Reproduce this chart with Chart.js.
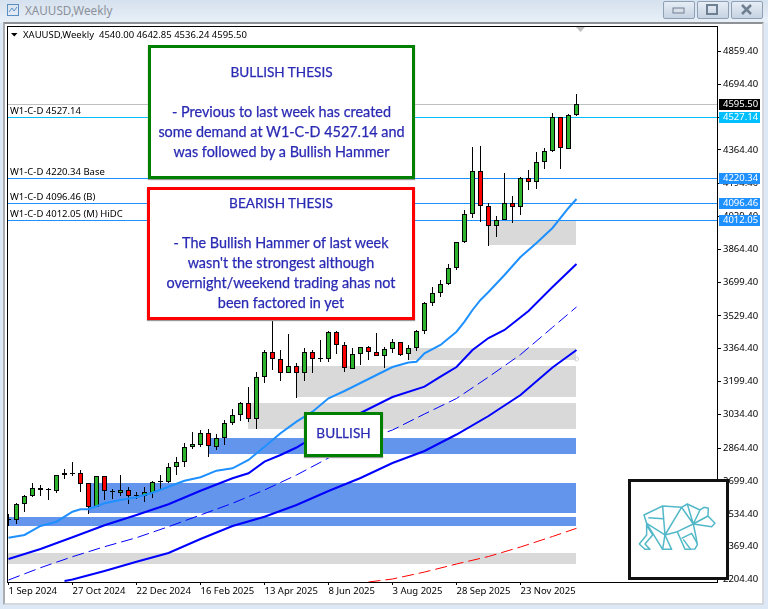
<!DOCTYPE html>
<html lang="en">

<head>
    <meta charset="UTF-8">
    <title>XAUUSD,Weekly</title>
    <script src="https://cdn.jsdelivr.net/npm/chart.js"></script>
    <style>
        * { box-sizing: border-box; }
        body { margin: 0; width: 768px; height: 609px; overflow: hidden; position: relative; background: #dce8f5; font-family: "Noto Sans", sans-serif; }
        .titlebar { position: absolute; left: 0; top: 0; width: 768px; height: 23px; background: linear-gradient(#d5e1ee, #e9f0f8); }
        .titlebar span { position: absolute; left: 25px; top: 2px; font-size: 11.7px; color: #8b9099; }
        .btn { position: absolute; top: 1px; height: 18px; border: 1px solid #8fa0b5; border-radius: 2px; background: linear-gradient(#e6edf5, #c6d3e2); }
        .frame { position: absolute; left: 3px; top: 22px; width: 761px; height: 583px; background: #fff; border: 2px solid #a9acb0; border-top-color: #8e9195; border-right-color: #d5d8dc; border-bottom-color: #d5d8dc; }
        canvas { position: absolute; left: 0; top: 0; }
        .info { position: absolute; left: 23px; top: 28px; font-size: 9.5px; color: #000; white-space: pre; }
        .box { position: absolute; background: #fff; text-align: center; color: #2a2ab4; font-family: Lato, sans-serif; font-size: 14.4px; line-height: 19.7px; box-shadow: 0 1px 1px #999; -webkit-text-stroke: 0.25px #2a2ab4; }
        .title { font-size: 13.6px; }
        .green { border: 3px solid #008000; }
        .red { border: 3px solid #ff0000; }
        .bearbox { position: absolute; left: 628px; top: 479px; width: 101px; height: 101px; background: #fff; border: 3px solid #111; }
        svg { position: absolute; left: 0; top: 0; }
    </style>
</head>

<body>

    <div class="titlebar">
        <span>XAUUSD,Weekly</span>
        <div class="btn" style="left:663px;width:32px"></div>
        <div class="btn" style="left:697px;width:32px"></div>
        <div class="btn" style="left:731px;width:32px"></div>
    </div>
    <div class="frame"></div>
    <canvas id="chartGold" width="768" height="609"></canvas>
    <div class="info">XAUUSD,Weekly  4540.00 4642.85 4536.24 4595.50</div>

    <!-- Caixas de texto -->
    <div class="box green" style="left:148px;top:45px;width:267px;height:134px;padding-top:14px">
        <span class="title">BULLISH THESIS</span><br><br>- Previous to last week has created<br>some demand at W1-C-D 4527.14 and<br>was followed by a Bullish Hammer
    </div>
    <div class="box red" style="left:147px;top:187px;width:268px;height:133px;padding-top:3px">
        <span class="title">BEARISH THESIS</span><br><br>- The Bullish Hammer of last week<br>wasn't the strongest although<br>overnight/weekend trading ahas not<br>been factored in yet
    </div>
    <div class="box green title" style="left:304px;top:412px;width:79px;height:45px;padding-top:9px">BULLISH</div>

    <div class="bearbox"></div>

    <!-- Desenhos da janela e o urso -->
    <svg width="768" height="609">
        <g fill="none" stroke="#5b8fc4">
            <rect x="7.5" y="4.5" width="11" height="11" />
            <path d="M9 12l3-4 2 3 3-4" />
        </g>
        <rect x="673" y="8" width="11" height="5" fill="#d8dfe8" stroke="#6f7f92" />
        <rect x="707" y="5" width="10" height="9" fill="none" stroke="#6f7f92" stroke-width="2" />
        <path d="M742 5l9 9M751 5l-9 9" stroke="#6f7f92" stroke-width="2.5" />
        <path d="M11 33h6.5l-3.2 3.5z" fill="#000" />
        <path d="M576 27h9l-4.5 5z" fill="#bdbdbd" />
        <circle cx="576.5" cy="359" r="2" fill="none" stroke="#d0d0d0" />
        <g transform="translate(300 420) scale(0.3333)" fill="none" stroke="#52b8c8" stroke-width="4.5" stroke-linejoin="round">
            <path d="M1032 285L1088 258L1145 262L1162 252L1200 270L1212 262L1225 265L1224 288L1245 310L1235 320L1180 312L1188 350L1192 375L1185 387L1155 388L1132 335L1095 345L1115 388L1088 388L1040 310L1032 285Z" />
            <path d="M1088 258L1095 345L1145 262L1180 312L1162 252M1045 293L1090 296M1040 310L1095 345M1180 312L1132 335M1200 270L1180 312M1180 312L1224 288" />
            <path d="M1040 310L1040 345L1018 372L1035 388L1050 388L1035 372L1058 345L1040 315M1095 345L1088 388M1145 355L1175 340L1192 370M1150 358L1172 388" />
        </g>
    </svg>

    <script>
        // Velas semanais (OHLC)
        var opens = [2503.7, 2502.2, 2582.6, 2622.8, 2663, 2656, 2650.9, 2728.3, 2738.3, 2738.3, 2688.2, 2570.5,
            2723.3, 2647.9, 2640.9, 2653, 2627.8, 2625.8, 2640.9, 2693.2, 2694.7, 2768.6, 2793.7, 2869.1,
            2879.2, 2939.6, 2872, 2914.2, 2989.8, 3030, 3090.3, 3009.9, 3221, 3346.6, 3311.4, 3241.1,
            3276.3, 3241.1, 3346.6, 3316.5, 3314.5, 3447.2, 3381.9, 3264.2, 3336.6, 3371.8, 3346.6, 3329.6,
            3363.3, 3396.9, 3336.6, 3366.7, 3453.7, 3593, 3643.2, 3688.5, 3768.9, 3899.8, 4040.4, 4256.6,
            4080.6, 3980, 4010.2, 4095.7, 4075.6, 4221.4, 4201.3, 4301.8, 4357.1, 4528, 4370.2, 4540]
        var highs = [2532, 2587.6, 2629.3, 2688.2, 2678.1, 2663, 2728.3, 2758.4, 2795, 2753.4, 2688.2, 2726,
            2723.3, 2659.5, 2728.3, 2668, 2642.9, 2668, 2698.2, 2728.3, 2790.2, 2818.8, 2889.2, 2944.6,
            2956.2, 2961.2, 2935.9, 3006.4, 3061.7, 3098.4, 3172.3, 3246.1, 3358.2, 3520, 3358.2, 3438.7,
            3291.4, 3366.7, 3358.2, 3408.5, 3453.7, 3452.2, 3396.9, 3366.7, 3373.3, 3378.4, 3442.2, 3371.8,
            3413.5, 3396.9, 3381.9, 3458.8, 3601, 3675, 3710, 3789, 3901, 4062, 4378.7, 4383.8,
            4095.7, 4031.9, 4248, 4131, 4226.4, 4263.1, 4353.6, 4372.2, 4548.1, 4530, 4544.6, 4642.85]
        var lows = [2473.5, 2485, 2545.4, 2617.8, 2625.8, 2604.2, 2640.9, 2711, 2724.8, 2645.9, 2535.3, 2568,
            2604.2, 2609.2, 2624.3, 2585.6, 2609.2, 2594.1, 2614.3, 2654.9, 2688.2, 2729.8, 2771.6, 2860.6,
            2872, 2821, 2856.7, 2882.2, 2982.7, 3002.8, 2997.8, 2959.6, 3193.9, 3257.7, 3204, 3241.1,
            3118.5, 3204, 3244.2, 3296.4, 3296.4, 3338.1, 3246.1, 3261.2, 3282.8, 3308, 3328.1, 3269.3,
            3344.6, 3329.6, 3308, 3354.8, 3437.2, 3579.4, 3626.1, 3686, 3761.9, 3898, 4023.3, 4002.8,
            3882.6, 3927.8, 4010.2, 3998, 4038.4, 4164, 4169.1, 4269.6, 4355, 4269.6, 4367.2, 4536.24]
        var closes = [2506.2, 2582.6, 2622.8, 2663, 2653, 2658, 2728.3, 2738.3, 2740, 2686.1, 2570.5, 2723.3,
            2647.9, 2649.5, 2653, 2625.8, 2629.5, 2642.9, 2693.2, 2698.2, 2768.6, 2793.7, 2869.1, 2884.2,
            2939.6, 2877.2, 2914.2, 2989.8, 3030, 3090.3, 3009.9, 3221, 3346.6, 3311.4, 3241.1, 3276.3,
            3241.1, 3346.6, 3313, 3318, 3447.2, 3381.9, 3266.3, 3336.6, 3371.8, 3346.6, 3329.6, 3363.3,
            3396.9, 3334.6, 3366.7, 3453.7, 3593, 3643.2, 3688.5, 3768.9, 3899.8, 4040.4, 4256.6, 4080.6,
            3980, 4010.2, 4095.7, 4075.6, 4221.4, 4201.3, 4301.8, 4357.1, 4528, 4372.2, 4538.1, 4595.5]

        // Médias móveis, só nas semanas onde dá para ler
        var maFastWeeks = [0, 2, 4, 6, 8, 9, 10, 12, 14, 16, 18, 20, 22, 24, 26, 28, 30, 32, 34, 36, 38, 40, 42, 44, 46,
            48, 50, 51, 52, 54, 56, 57, 58, 59, 60, 62, 64, 66, 68, 70, 71]
        var maFast = [2414.7, 2428.3, 2473.5, 2495.1, 2545.4, 2557.4, 2557.4, 2587.6, 2604.2, 2617.8, 2640.9, 2671,
            2701.2, 2718.3, 2751.5, 2763.6, 2805.3, 2872, 2939.6, 2997.8, 3048.1, 3115.4, 3152.1, 3192.4, 3232.6,
            3272.8, 3295.4, 3299.4, 3341.7, 3383.4, 3450.2, 3500.5, 3559.3, 3609.6, 3649.8, 3735.3, 3825.8, 3896.1,
            3971.5, 4072, 4117.3]
        var maMidWeeks = [0, 4, 8, 12, 16, 20, 24, 28, 30, 32, 34, 36, 40, 44, 48, 52, 54, 56, 58, 60, 62, 65, 68, 71]
        var maMid = [2307.6, 2357.9, 2416.7, 2477, 2528.8, 2582.6, 2650.9, 2713.3, 2738.4, 2796.7, 2830.4, 2868.1,
            2966.1, 3041.5, 3122, 3173.7, 3224, 3272.8, 3358.2, 3418.6, 3458.8, 3554.3, 3674.9, 3790.6]
        var maDashedWeeks = [0, 4, 8, 12, 16, 20, 24, 28, 32, 36, 40, 44, 48, 52, 56, 60, 64, 68, 71]
        var maDashed = [2202, 2263.9, 2319.2, 2369.4, 2414.7, 2470, 2528.8, 2587.6, 2654.5, 2729.8, 2815.3, 2900.8,
            2956, 3036.5, 3114.4, 3222.4, 3335, 3471.9, 3574.4]
        var maSlowWeeks = [7, 8, 12, 16, 20, 24, 28, 32, 36, 40, 44, 48, 52, 56, 60, 64, 68, 71]
        var maSlow = [2197, 2204.5, 2247.4, 2294, 2338, 2408.2, 2473.5, 2520.2, 2579, 2649.4, 2714.8, 2790.2,
            2850.5, 2933.4, 3026.4, 3132, 3270.3, 3358.2]
        var maRedWeeks = [45, 48, 52, 56, 60, 64, 68, 71]
        var maRed = [2192, 2207, 2242, 2282.5, 2320.2, 2368, 2420.7, 2462]

        // Zonas de oferta e demanda
        var blueStart = [10, 0, 25]
        var blueTop = [2689.7, 2518.8, 2915.9]
        var blueBottom = [2538.9, 2473.5, 2835.5]
        var grayStart = [0, 30, 36, 50, 60]
        var grayTop = [2337.8, 3091.8, 3277.8, 3368.3, 4012.05]
        var grayBottom = [2282.5, 2961.1, 3122, 3308, 3886]

        // Níveis horizontais
        var levelValues = [4220.34, 4096.46, 4012.05, 4527.14]
        var levelNames = ['W1-C-D 4220.34 Base', 'W1-C-D 4096.46 (B)', 'W1-C-D 4012.05 (M) HiDC', 'W1-C-D 4527.14']
        var lastPrice = 4595.50

        // Eixos
        var xTickWeeks = [0, 8, 16, 24, 32, 40, 48, 56, 64]
        var xTickLabels = ['1 Sep 2024', '27 Oct 2024', '22 Dec 2024', '16 Feb 2025', '13 Apr 2025', '8 Jun 2025',
            '3 Aug 2025', '28 Sep 2025', '23 Nov 2025']
        var yTickValues = [4859.4, 4694.4, 4529.4, 4364.4, 4194.4, 4029.4, 3864.4, 3699.4, 3529.4, 3364.4, 3199.4,
            3034.4, 2864.4, 2699.4, 2534.4, 2369.4, 2204.4]

        var candleGreen = '#2cb52c'
        var candleRed = '#ff0000'
        var tickFont = { family: '"Noto Sans"', size: 9.5 }

        function montarLinha(weeks, values) {
            var pontos = []
            for (var i = 0; i < weeks.length; i++) {
                pontos.push({ x: weeks[i], y: values[i] })
            }
            return pontos
        }

        var pavios = []
        var corpos = []
        var coresCorpos = []

        for (var i = 0; i < opens.length; i++) {
            pavios.push({ x: i, y: [lows[i], highs[i]] })
            corpos.push({ x: i, y: [Math.min(opens[i], closes[i]), Math.max(opens[i], closes[i])] })

            if (Math.abs(opens[i] - closes[i]) < 6) {
                coresCorpos.push('#000')
            } else if (closes[i] > opens[i]) {
                coresCorpos.push(candleGreen)
            } else {
                coresCorpos.push(candleRed)
            }
        }

        function desenharZonas(chart, starts, tops, bottoms, cor) {
            var ctx = chart.ctx
            var x = chart.scales.x
            var y = chart.scales.y
            ctx.fillStyle = cor
            for (var i = 0; i < starts.length; i++) {
                var esquerda = Math.floor(x.getPixelForValue(starts[i]))
                var direita = Math.floor(x.getPixelForValue(71))
                var cima = Math.round(y.getPixelForValue(tops[i]))
                var baixo = Math.round(y.getPixelForValue(bottoms[i]))
                ctx.fillRect(esquerda, cima, direita - esquerda, baixo - cima)
            }
        }

        // Zonas e linhas atrás das velas, moldura e etiquetas por cima
        var pluginFundo = {
            id: 'fundo',
            afterDatasetsUpdate: function (chart) {
                chart.getSortedVisibleDatasetMetas().forEach(function (meta) {
                    if (meta.type != 'bar') return
                    meta.data.forEach(function (barra) {
                        barra.y = Math.round(barra.y)
                        barra.base = Math.round(barra.base)
                        if (barra.y == barra.base) barra.base = barra.y + 1
                    })
                })
            },
            beforeDatasetsDraw: function (chart) {
                var ctx = chart.ctx
                var y = chart.scales.y
                var area = chart.chartArea

                desenharZonas(chart, blueStart, blueTop, blueBottom, '#6495ed')
                desenharZonas(chart, grayStart, grayTop, grayBottom, '#d9d9d9')

                ctx.fillStyle = '#c0c0c0'
                ctx.fillRect(area.left, Math.round(y.getPixelForValue(lastPrice)), area.right - area.left, 1)

                for (var i = 0; i < levelValues.length; i++) {
                    ctx.fillStyle = levelValues[i] == 4527.14 ? '#00bfff' : '#1e90ff'
                    ctx.fillRect(area.left, Math.round(y.getPixelForValue(levelValues[i])), area.right - area.left, 1)
                }
            },
            afterDraw: function (chart) {
                var ctx = chart.ctx
                var y = chart.scales.y
                var area = chart.chartArea

                ctx.strokeStyle = '#000'
                ctx.lineWidth = 1
                ctx.strokeRect(area.left - 0.5, area.top - 0.5, area.right - area.left + 1, area.bottom - area.top + 1)

                ctx.font = '9.5px "Noto Sans"'
                ctx.textBaseline = 'middle'
                ctx.textAlign = 'left'

                for (var i = 0; i < levelValues.length; i++) {
                    var py = Math.round(y.getPixelForValue(levelValues[i]))
                    ctx.fillStyle = '#000'
                    ctx.fillText(levelNames[i], 10, py - 6)
                    ctx.fillStyle = levelValues[i] == 4527.14 ? '#00bfff' : '#1e90ff'
                    ctx.fillRect(719, py - 5, 41, 11)
                    ctx.fillStyle = '#fff'
                    ctx.fillText(levelValues[i].toFixed(2), 723, py + 0.5)
                }

                var pyLast = Math.round(y.getPixelForValue(lastPrice))
                ctx.fillStyle = '#000'
                ctx.fillRect(719, pyLast - 5, 41, 11)
                ctx.fillStyle = '#fff'
                ctx.fillText(lastPrice.toFixed(2), 723, pyLast + 0.5)
            }
        }

        const configGold = {
            type: 'bar',
            plugins: [pluginFundo],
            data: {
                datasets: [
                    { type: 'line', data: montarLinha(maFastWeeks, maFast), borderColor: '#1e90ff', borderWidth: 2, pointRadius: 0, order: 1 },
                    { type: 'line', data: montarLinha(maMidWeeks, maMid), borderColor: '#0000ff', borderWidth: 2, pointRadius: 0, order: 1 },
                    { type: 'line', data: montarLinha(maDashedWeeks, maDashed), borderColor: '#0000ff', borderWidth: 1, borderDash: [12, 5], pointRadius: 0, order: 1 },
                    { type: 'line', data: montarLinha(maSlowWeeks, maSlow), borderColor: '#0000ff', borderWidth: 2, pointRadius: 0, order: 1 },
                    { type: 'line', data: montarLinha(maRedWeeks, maRed), borderColor: '#ff0000', borderWidth: 1, borderDash: [12, 5], pointRadius: 0, order: 1 },
                    { data: corpos, backgroundColor: coresCorpos, borderColor: '#000', borderWidth: 1, borderSkipped: false, inflateAmount: 0, barThickness: 5, grouped: false, order: 2 },
                    { data: pavios, backgroundColor: '#000', borderWidth: 0, inflateAmount: 0, barThickness: 1, grouped: false, order: 3 }
                ]
            },
            options: {
                responsive: false,
                animation: false,
                layout: { padding: { left: 8, top: 27, right: 0, bottom: 0 } },
                plugins: { legend: { display: false }, tooltip: { enabled: false } },
                scales: {
                    x: {
                        type: 'linear',
                        offset: false,
                        min: -0.0625,
                        max: 88.5625,
                        afterFit: function (scale) { scale.height = 27 },
                        afterBuildTicks: function (scale) {
                            scale.ticks = xTickWeeks.map(function (v) { return { value: v } })
                        },
                        grid: { offset: false, drawOnChartArea: false, tickLength: 3, color: '#000' },
                        border: { display: false },
                        ticks: {
                            autoSkip: false,
                            maxRotation: 0,
                            align: 'start',
                            padding: 1,
                            color: '#000',
                            font: tickFont,
                            callback: function (value, index) { return xTickLabels[index] }
                        }
                    },
                    y: {
                        position: 'right',
                        min: 2192,
                        max: 4981.8,
                        afterFit: function (scale) { scale.width = 51 },
                        afterBuildTicks: function (scale) {
                            scale.ticks = yTickValues.map(function (v) { return { value: v } })
                        },
                        grid: { drawOnChartArea: false, tickLength: 4, color: '#000' },
                        border: { display: false },
                        ticks: {
                            autoSkip: false,
                            padding: 2,
                            color: '#000',
                            font: tickFont,
                            callback: function (value) { return value.toFixed(2) }
                        }
                    }
                }
            }
        }

        new Chart(document.getElementById('chartGold'), configGold)
    </script>
</body>

</html>
